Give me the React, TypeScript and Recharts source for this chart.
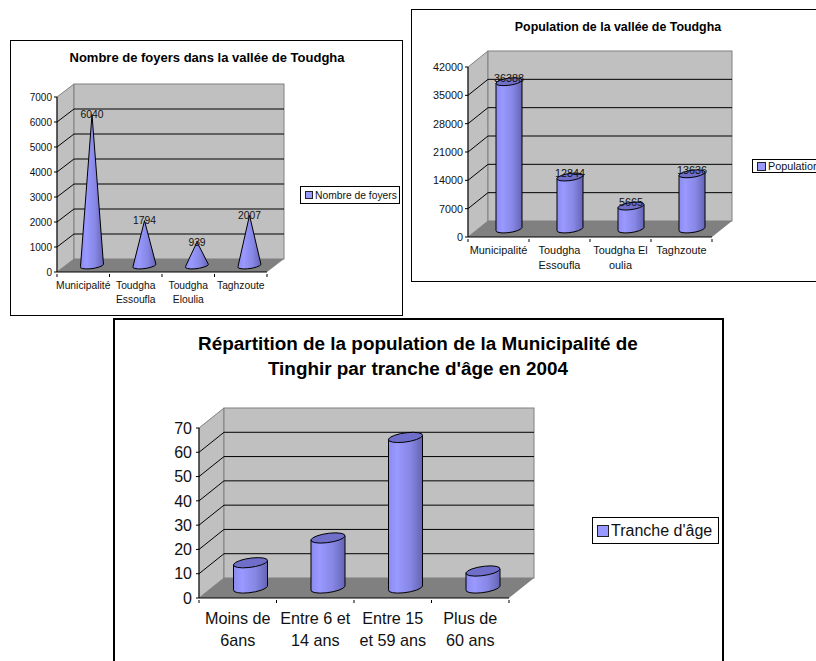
import React from 'react';
import { BarChart, Bar, XAxis, YAxis, Legend, LabelList, usePlotArea } from 'recharts';

const foyersCategories = ['Municipalité', 'Toudgha\nEssoufla', 'Toudgha\nEloulia', 'Taghzoute'];
const foyersValues = [6040, 1794, 939, 2007];
const foyersTicks = [0, 1000, 2000, 3000, 4000, 5000, 6000, 7000];

const populationCategories = ['Municipalité', 'Toudgha\nEssoufla', 'Toudgha El\noulia', 'Taghzoute'];
const populationValues = [36388, 12844, 5665, 13636];
const populationTicks = [0, 7000, 14000, 21000, 28000, 35000, 42000];

const ageCategories = ['Moins de\n6ans', 'Entre 6 et\n14 ans', 'Entre 15\net 59 ans', 'Plus de\n60 ans'];
const ageValues = [10.4, 20.6, 62, 7];
const ageTicks = [0, 10, 20, 30, 40, 50, 60, 70];

const FONT = '"Liberation Sans", Arial, sans-serif';
const INK = '#111';

// draws the floor, side wall and back wall behind the bars
const Walls = ({ dx, dy, ticks }: { dx: number; dy: number; ticks: number[] }) => {
  const plot = usePlotArea();
  if (!plot) return null;
  const x0 = plot.x;
  const x1 = plot.x + plot.width;
  const yT = plot.y;
  const y0 = plot.y + plot.height;
  const max = ticks[ticks.length - 1];
  return (
    <g>
      <defs>
        <linearGradient id="barFill" x1="0" y1="0" x2="1" y2="0">
          <stop offset="0" stopColor="#8a8af0" />
          <stop offset="0.25" stopColor="#9999ff" />
          <stop offset="0.65" stopColor="#8686e4" />
          <stop offset="1" stopColor="#6464b4" />
        </linearGradient>
      </defs>
      <polygon
        points={`${x0},${y0} ${x0 + dx},${y0 + dy} ${x0 + dx},${yT + dy} ${x0},${yT}`}
        fill="#c0c0c0"
        stroke="#808080"
      />
      <rect x={x0 + dx} y={yT + dy} width={x1 - x0} height={y0 - yT} fill="#c0c0c0" stroke="#808080" />
      <polygon
        points={`${x0},${y0} ${x1},${y0} ${x1 + dx},${y0 + dy} ${x0 + dx},${y0 + dy}`}
        fill="#808080"
      />
      {ticks.slice(1, -1).map((t) => {
        const y = y0 - (plot.height * t) / max;
        return (
          <polyline
            key={t}
            points={`${x0},${y} ${x0 + dx},${y + dy} ${x1 + dx},${y + dy}`}
            fill="none"
            stroke="#000"
          />
        );
      })}
    </g>
  );
};

const CylinderShape = (props: any) => {
  const { x, y, width, height, shiftX, shiftY, ry } = props;
  const hw = width / 2;
  const cx = x + hw + shiftX;
  const top = y + shiftY;
  const base = y + height + shiftY;
  const tilt = ry * 0.4;
  return (
    <g stroke="#000" strokeWidth={1}>
      <path
        d={`M${cx - hw},${top + tilt} L${cx - hw},${base + tilt} A${hw},${ry} -8 0 0 ${cx + hw},${base - tilt} L${cx + hw},${top - tilt} Z`}
        fill="url(#barFill)"
      />
      <path
        d={`M${cx - hw},${top + tilt} A${hw},${ry} -8 0 1 ${cx + hw},${top - tilt} A${hw},${ry} -8 0 1 ${cx - hw},${top + tilt} Z`}
        fill="#6f6fca"
      />
    </g>
  );
};

const ConeShape = (props: any) => {
  const { x, y, width, height, shiftX, shiftY, ry } = props;
  const hw = width / 2;
  const cx = x + hw + shiftX;
  const base = y + height + shiftY;
  return (
    <path
      d={`M${cx},${y + shiftY} L${cx + hw},${base - 1} A${hw},${ry} -8 0 1 ${cx - hw},${base + 1} Z`}
      fill="url(#barFill)"
      stroke="#000"
    />
  );
};

const CategoryTick = (props: any) => {
  const { x, y, payload, index, step, fontSize, first, lineGap } = props;
  return (
    <g>
      {index === 0 && <line x1={x - step / 2} x2={x - step / 2} y1={y} y2={y + 3} stroke="#000" />}
      <line x1={x + step / 2} x2={x + step / 2} y1={y} y2={y + 3} stroke="#000" />
      {String(payload.value)
        .split('\n')
        .map((line, i) => (
          <text key={i} x={x} y={y + first + i * lineGap} textAnchor="middle" fontSize={fontSize} fontFamily={FONT} fill={INK}>
            {line}
          </text>
        ))}
    </g>
  );
};

const LegendBox = ({ label, style, swatch, fontSize }: any) => (
  <div
    style={{
      ...style,
      position: 'absolute',
      boxSizing: 'border-box',
      border: '1px solid #000',
      background: '#fff',
      display: 'flex',
      alignItems: 'center',
      whiteSpace: 'nowrap',
      fontFamily: FONT,
      fontSize,
      color: INK,
    }}
  >
    <span style={{ width: swatch, height: swatch, background: '#9999ff', border: '1px solid #222', marginLeft: 4, marginRight: 2, flex: 'none' }} />
    {label}
  </div>
);

const Chart3D = (p: any) => {
  const data = p.categories.map((name: string, i: number) => ({ name, value: p.values[i] }));
  const w = p.frame.w;
  const h = p.frame.h;
  const { left, right, top, bottom } = p.plot;
  const step = (right - left) / p.categories.length;
  const Shape = p.cone ? ConeShape : CylinderShape;
  const shiftX = p.dx / 2;
  const shiftY = p.dy / 2;
  const frameBorder = `${p.frame.border}px solid #000`;
  return (
    <div
      style={{
        position: 'absolute',
        left: p.frame.x,
        top: p.frame.y,
        width: w,
        height: h,
        boxSizing: 'border-box',
        borderLeft: frameBorder,
        borderRight: frameBorder,
        borderTop: frameBorder,
        borderBottom: p.frame.open ? 'none' : frameBorder,
        background: '#fff',
      }}
    >
      <div style={{ position: 'absolute', left: -p.frame.border, top: -p.frame.border }}>
        <BarChart
          width={w}
          height={h}
          data={data}
          margin={{ top: top - p.frame.y, right: p.frame.x + w - right, bottom: 0, left: 0 }}
          barSize={p.barWidth}
        >
          <Walls dx={p.dx} dy={p.dy} ticks={p.ticks} />
          <XAxis
            dataKey="name"
            height={p.frame.y + h - bottom}
            axisLine={{ stroke: '#000' }}
            tickLine={false}
            tickSize={0}
            interval={0}
            tick={<CategoryTick step={step} fontSize={p.catFont} first={p.catFirst} lineGap={p.catGap} />}
          />
          <YAxis
            type="number"
            domain={[0, p.ticks[p.ticks.length - 1]]}
            ticks={p.ticks}
            interval={0}
            width={left - p.frame.x}
            axisLine={{ stroke: '#000' }}
            tickLine={{ stroke: '#000' }}
            tickSize={3}
            tickMargin={p.tickGap}
            tick={{ fontSize: p.tickFont, fontFamily: FONT, fill: INK }}
          />
          <Bar
            dataKey="value"
            name={p.series}
            isAnimationActive={false}
            shape={(s: any) => <Shape {...s} shiftX={shiftX} shiftY={shiftY} ry={p.ry} />}
          >
            {p.labelOffset !== undefined && (
              <LabelList
                dataKey="value"
                content={(l: any) => (
                  <text
                    x={l.x + l.width / 2 + shiftX}
                    y={l.y + shiftY + p.labelOffset}
                    textAnchor="middle"
                    dominantBaseline="central"
                    fontSize={p.labelFont}
                    fontFamily={FONT}
                    fill={INK}
                  >
                    {l.value}
                  </text>
                )}
              />
            )}
          </Bar>
          <Legend
            layout="vertical"
            align="center"
            verticalAlign="middle"
            wrapperStyle={{ left: 0, top: 0, width: 0, height: 0 }}
            content={() => (
              <LegendBox
                label={p.series}
                fontSize={p.legend.font}
                swatch={p.legend.swatch}
                style={{ left: p.legend.x - p.frame.x, top: p.legend.y - p.frame.y, width: p.legend.w, height: p.legend.h }}
              />
            )}
          />
          {p.titleLines.map((line: string, i: number) => (
            <text
              key={line}
              x={p.titleX - p.frame.x}
              y={p.titleY - p.frame.y + i * p.titleGap}
              textAnchor="middle"
              dominantBaseline="central"
              fontSize={p.titleFont}
              fontWeight="bold"
              fontFamily={FONT}
              fill="#000"
            >
              {line}
            </text>
          ))}
        </BarChart>
      </div>
    </div>
  );
};

export default function App() {
  return (
    <div style={{ position: 'absolute', left: 0, top: 0, width: 816, height: 661, overflow: 'hidden', background: '#fff' }}>
      <Chart3D
        categories={foyersCategories}
        values={foyersValues}
        ticks={foyersTicks}
        series="Nombre de foyers"
        cone
        frame={{ x: 10, y: 40, w: 393, h: 276, border: 1 }}
        plot={{ left: 57, right: 267, top: 97, bottom: 272 }}
        dx={17}
        dy={-13}
        barWidth={23}
        ry={3}
        titleLines={['Nombre de foyers dans la vallée de Toudgha']}
        titleX={207}
        titleY={57}
        titleGap={0}
        titleFont={13}
        tickFont={10}
        tickGap={2}
        catFont={10.3}
        catFirst={15}
        catGap={14}
        labelFont={10.3}
        labelOffset={0}
        legend={{ x: 300, y: 186, w: 100, h: 18, font: 10.3, swatch: 6 }}
      />
      <Chart3D
        categories={populationCategories}
        values={populationValues}
        ticks={populationTicks}
        series="Population"
        frame={{ x: 411, y: 9, w: 425, h: 273, border: 1 }}
        plot={{ left: 468, right: 712, top: 67, bottom: 237 }}
        dx={20}
        dy={-16}
        barWidth={26}
        ry={3.5}
        titleLines={['Population de la vallée de Toudgha']}
        titleX={618}
        titleY={27}
        titleGap={0}
        titleFont={12.4}
        tickFont={10.8}
        tickGap={2}
        catFont={10.9}
        catFirst={15}
        catGap={15}
        labelFont={10.8}
        labelOffset={-4}
        legend={{ x: 752, y: 159, w: 90, h: 14, font: 10.8, swatch: 7 }}
      />
      <Chart3D
        categories={ageCategories}
        values={ageValues}
        ticks={ageTicks}
        series="Tranche d'âge"
        frame={{ x: 113, y: 318, w: 611, h: 350, border: 2, open: true }}
        plot={{ left: 199, right: 509, top: 428, bottom: 598 }}
        dx={25}
        dy={-20}
        barWidth={34}
        ry={4.5}
        titleLines={['Répartition de la population de la Municipalité de', "Tinghir par tranche d'âge en 2004"]}
        titleX={418}
        titleY={343}
        titleGap={25}
        titleFont={18.9}
        tickFont={16}
        tickGap={4}
        catFont={16.2}
        catFirst={24}
        catGap={22}
        legend={{ x: 592, y: 517, w: 127, h: 27, font: 16, swatch: 10 }}
      />
    </div>
  );
}
